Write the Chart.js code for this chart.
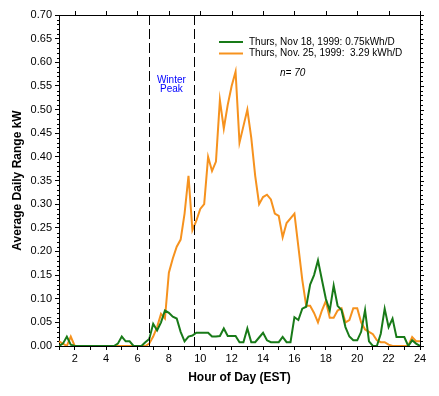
<!DOCTYPE html>
<html lang="en">

<head>
    <meta charset="UTF-8">
    <title>Average Daily Range kW</title>
    <script src="https://cdn.jsdelivr.net/npm/chart.js"></script>
    <style>
        body {
            margin: 0;
            background: #fff;
        }

        #wrap {
            width: 439px;
            height: 396px;
        }
    </style>
</head>

<body>
    <div id="wrap"><canvas id="rangeChart" width="439" height="396"></canvas></div>

    <script>
        // hour of day, 15 minute steps
        const hours = [
            1, 1.25, 1.5, 1.75, 2, 2.25, 2.5, 2.75, 3, 3.25, 3.5, 3.75,
            4, 4.25, 4.5, 4.75, 5, 5.25, 5.5, 5.75, 6, 6.25, 6.5, 6.75,
            7, 7.25, 7.5, 7.75, 8, 8.25, 8.5, 8.75, 9, 9.25, 9.5, 9.75,
            10, 10.25, 10.5, 10.75, 11, 11.25, 11.5, 11.75, 12, 12.25, 12.5, 12.75,
            13, 13.25, 13.5, 13.75, 14, 14.25, 14.5, 14.75, 15, 15.25, 15.5, 15.75,
            16, 16.25, 16.5, 16.75, 17, 17.25, 17.5, 17.75, 18, 18.25, 18.5, 18.75,
            19, 19.25, 19.5, 19.75, 20, 20.25, 20.5, 20.75, 21, 21.25, 21.5, 21.75,
            22, 22.25, 22.5, 22.75, 23, 23.25, 23.5, 23.75, 24
        ];

        // Thurs, Nov 18, 1999
        const nov18 = [
            0, 0.005, 0.02, 0.003, 0, 0, 0, 0, 0, 0, 0, 0,
            0, 0, 0, 0.005, 0.02, 0.01, 0.01, 0, 0, 0, 0.008, 0.015,
            0.047, 0.033, 0.05, 0.075, 0.07, 0.062, 0.058, 0.03, 0.01, 0.02, 0.022, 0.028,
            0.028, 0.028, 0.028, 0.02, 0.02, 0.021, 0.037, 0.021, 0.021, 0.021, 0.008, 0.008,
            0.037, 0.008, 0.008, 0.018, 0.028, 0.012, 0.008, 0.008, 0.008, 0.019, 0.008, 0.008,
            0.061, 0.055, 0.079, 0.083, 0.13, 0.15, 0.181, 0.14, 0.10, 0.075, 0.128, 0.085,
            0.076, 0.04, 0.02, 0.012, 0.012, 0.03, 0.076, 0.01, 0, 0, 0.026, 0.079,
            0.04, 0.058, 0.019, 0.019, 0.019, 0, 0.012, 0.005, 0
        ];

        // Thurs, Nov. 25, 1999
        const nov25 = [
            0.01, 0.005, 0, 0.02, 0, 0, 0, 0, 0, 0, 0, 0,
            0, 0, 0, 0, 0, 0, 0, 0, 0, 0, 0, 0.005,
            0.02, 0.04, 0.068, 0.058, 0.155, 0.185, 0.21, 0.225, 0.28, 0.36, 0.245, 0.265,
            0.29, 0.30, 0.40, 0.37, 0.39, 0.52, 0.46, 0.51, 0.55, 0.58, 0.43, 0.465,
            0.50, 0.44, 0.36, 0.30, 0.315, 0.32, 0.31, 0.28, 0.275, 0.23, 0.26, 0.27,
            0.28, 0.21, 0.14, 0.085, 0.085, 0.07, 0.05, 0.075, 0.095, 0.06, 0.06, 0.075,
            0.08, 0.05, 0.055, 0.08, 0.08, 0.05, 0.035, 0.03, 0.025, 0.012, 0.008, 0.008,
            0.003, 0, 0, 0, 0, 0, 0.019, 0.01, 0.01
        ];

        const seriesLabels = ['Thurs, Nov 18, 1999: 0.75kWh/D', 'Thurs, Nov. 25, 1999:  3.29 kWh/D'];
        const seriesColors = ['rgb(24,122,24)', 'rgb(246,146,30)'];

        // winter peak window (hours)
        const peakBounds = [6.75, 9.57];
        const peakLabel = ['Winter', 'Peak'];
        const sampleNote = 'n= 70';

        const fontFam = 'Arial, "Liberation Sans", sans-serif';
        Chart.defaults.font.family = fontFam;
        Chart.defaults.color = '#000';

        function toPoints(vals) {
            return hours.map((h, i) => ({ x: h, y: vals[i] }));
        }

        function tick(ctx, x1, y1, x2, y2) {
            ctx.beginPath();
            ctx.moveTo(x1, y1);
            ctx.lineTo(x2, y2);
            ctx.stroke();
        }

        // dashed peak lines, notes, legend, minor / mirrored ticks
        const extras = {
            id: 'extras',
            afterDraw(chart) {
                const ctx = chart.ctx;
                const xs = chart.scales.x;
                const ys = chart.scales.y;
                const area = chart.chartArea;
                ctx.save();

                ctx.strokeStyle = '#000';
                ctx.lineWidth = 1;
                // left minor ticks, right ticks
                for (let v = 0; v <= 70; v++) {
                    const py = Math.round(ys.getPixelForValue(v / 100)) + 0.5;
                    if (v % 5 !== 0) tick(ctx, area.left - 2, py, area.left, py);
                    tick(ctx, area.right, py, area.right + (v % 5 === 0 ? 4 : 3), py);
                }
                // top ticks on even hours
                for (let h = 2; h <= 24; h += 2) {
                    const px = Math.round(xs.getPixelForValue(h)) + 0.5;
                    tick(ctx, px, area.top - 4, px, area.top);
                }

                // dashed lines
                ctx.setLineDash([10, 4]);
                peakBounds.forEach(h => {
                    const px = Math.round(xs.getPixelForValue(h)) + 0.5;
                    tick(ctx, px, area.top, px, area.bottom);
                });
                ctx.setLineDash([]);

                // Winter Peak label
                const midX = (xs.getPixelForValue(peakBounds[0]) + xs.getPixelForValue(peakBounds[1])) / 2;
                ctx.fillStyle = '#0000ff';
                ctx.font = '10px ' + fontFam;
                ctx.textAlign = 'center';
                ctx.textBaseline = 'middle';
                ctx.fillText(peakLabel[0], midX, 80);
                ctx.fillText(peakLabel[1], midX, 89);

                // legend
                ctx.textAlign = 'left';
                seriesLabels.forEach((lbl, i) => {
                    const ly = 42 + i * 11.5;
                    ctx.strokeStyle = seriesColors[i];
                    ctx.lineWidth = 2;
                    tick(ctx, 219, ly, 243, ly);
                    ctx.fillStyle = '#000';
                    ctx.fillText(lbl, 249, ly);
                });

                ctx.font = 'italic 10px ' + fontFam;
                ctx.fillText(sampleNote, 280, 73);
                ctx.restore();
            }
        };

        const axisGrid = { drawOnChartArea: false, color: '#000', tickLength: 4 };
        const axisBorder = { color: '#000', width: 1 };

        const chart = new Chart(document.getElementById('rangeChart'), {
            type: 'line',
            data: {
                datasets: [{
                    label: seriesLabels[0],
                    data: toPoints(nov18),
                    borderColor: seriesColors[0],
                    borderWidth: 2,
                    pointRadius: 0,
                    tension: 0,
                    fill: false
                }, {
                    label: seriesLabels[1],
                    data: toPoints(nov25),
                    borderColor: seriesColors[1],
                    borderWidth: 2,
                    pointRadius: 0,
                    tension: 0,
                    fill: false
                }]
            },
            options: {
                responsive: false,
                animation: false,
                layout: { padding: 0 },
                plugins: {
                    legend: { display: false },
                    tooltip: { enabled: false }
                },
                scales: {
                    x: {
                        type: 'linear',
                        position: 'bottom',
                        min: 1,
                        max: 24,
                        grid: axisGrid,
                        border: axisBorder,
                        ticks: {
                            stepSize: 1,
                            autoSkip: false,
                            maxRotation: 0,
                            padding: 2,
                            font: { size: 11 },
                            callback: v => (v % 2 === 0 ? String(v) : '')
                        },
                        title: {
                            display: true,
                            text: 'Hour of Day (EST)',
                            font: { size: 12, weight: 'bold' },
                            padding: { top: 0, bottom: 11 }
                        },
                        afterFit: s => { s.height = 50; }
                    },
                    x2: {
                        type: 'linear',
                        position: 'top',
                        min: 1,
                        max: 24,
                        grid: { display: false },
                        border: axisBorder,
                        ticks: { display: false },
                        afterFit: s => { s.height = 15; }
                    },
                    y: {
                        position: 'left',
                        min: 0,
                        max: 0.7,
                        grid: axisGrid,
                        border: axisBorder,
                        ticks: {
                            stepSize: 0.05,
                            padding: 3,
                            font: { size: 11 },
                            callback: v => v.toFixed(2)
                        },
                        title: {
                            display: true,
                            text: 'Average Daily Range kW',
                            font: { size: 12, weight: 'bold' },
                            padding: { top: 10, bottom: 0 }
                        },
                        afterFit: s => { s.width = 59; }
                    },
                    y2: {
                        position: 'right',
                        min: 0,
                        max: 0.7,
                        grid: { display: false },
                        border: axisBorder,
                        ticks: { display: false },
                        afterFit: s => { s.width = 19; }
                    }
                }
            },
            plugins: [extras]
        });
    </script>
</body>

</html>
